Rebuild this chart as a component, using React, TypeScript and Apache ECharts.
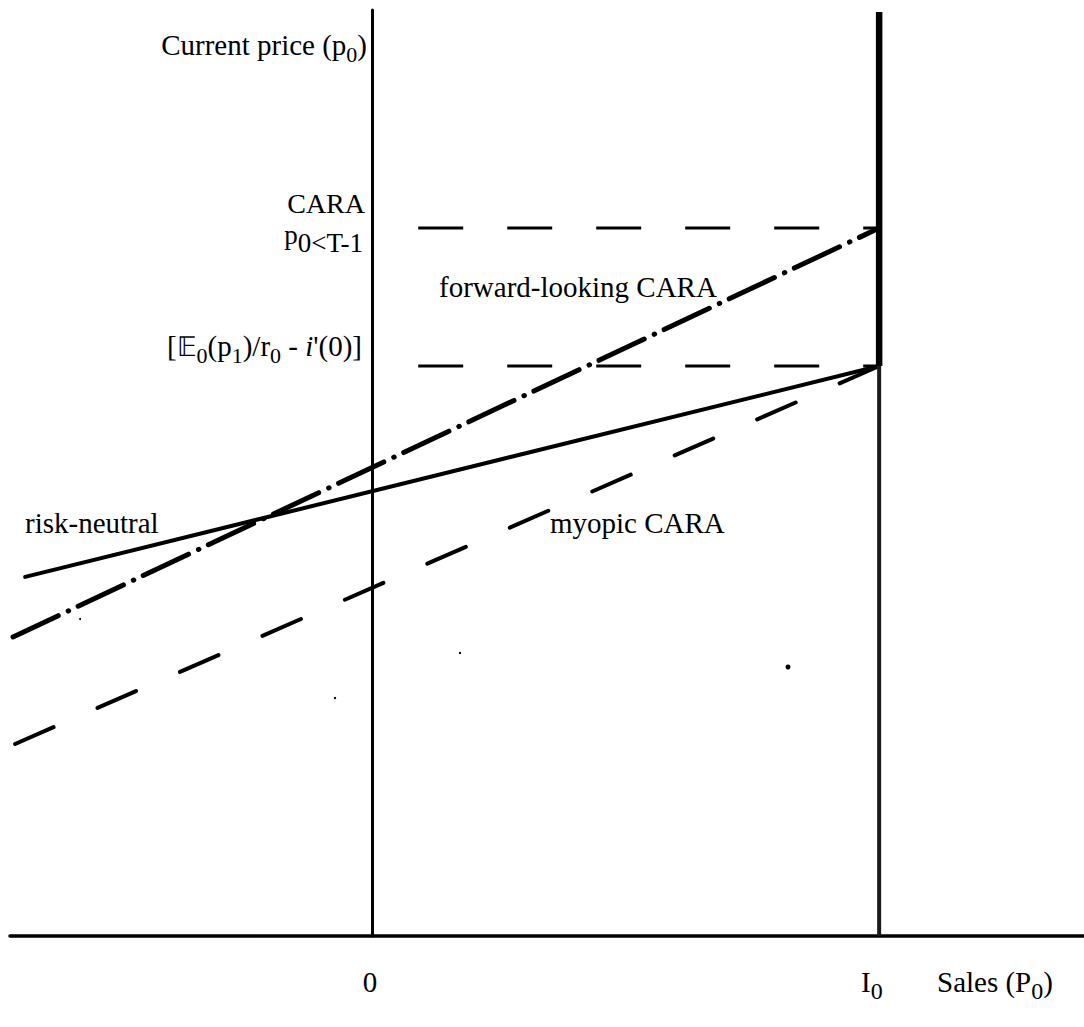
import React, { useEffect, useRef } from "react";
import * as echarts from "echarts";

// ---- data (x: sales, I0 = 100; y: current price, E0(p1)/r0 - i'(0) = 100) ----
const X_RANGE = [-71.4, 140.4];
const Y_RANGE = [0, 162.46];
const I0 = 100;
const LEVEL_E = 100; // [E0(p1)/r0 - i'(0)]
const LEVEL_CARA = 124.2; // p0<T-1 CARA
const GUIDE_START = 9.1;
const RISK_NEUTRAL = [[-68.4, 63.0], [100, 100]];
const FORWARD_CARA = [[-70.8, 52.46], [100, 124.2]];
const MYOPIC_CARA = [[-70.4, 33.68], [100, 100]];
const I0_TOP = 162.1;

const FONT = '"Liberation Serif", "Times New Roman", serif';

type Piece = { t: string; s: number; dy?: number; italic?: boolean };

let measureCtx: CanvasRenderingContext2D | null = null;
function measure(p: Piece): number {
  if (!measureCtx) measureCtx = document.createElement("canvas").getContext("2d");
  measureCtx!.font = `${p.italic ? "italic " : ""}${p.s}px ${FONT}`;
  return measureCtx!.measureText(p.t).width;
}

function label(pieces: Piece[], x: number, baseline: number, align: "left" | "right" | "center") {
  const widths = pieces.map(measure);
  const total = widths.reduce((a, b) => a + b, 0);
  let cx = align === "left" ? x : align === "right" ? x - total : x - total / 2;
  const children: any[] = [];
  pieces.forEach((p, i) => {
    const by = baseline + (p.dy || 0);
    children.push({
      type: "text",
      x: cx,
      y: by - 0.3375 * p.s,
      silent: true,
      style: {
        text: p.t,
        font: `${p.italic ? "italic " : ""}${p.s}px ${FONT}`,
        fill: "#000",
        lineHeight: Math.round(p.s * 0.8),
        align: "left",
        verticalAlign: "middle",
        textAlign: "left",
        textVerticalAlign: "middle",
      },
    });
    cx += widths[i];
  });
  return { type: "group", children };
}

export default function App() {
  const ref = useRef<HTMLDivElement>(null);
  useEffect(() => {
    const chart = echarts.init(ref.current!, null, { renderer: "svg" });
    const lineSeries = (name: string, data: number[][], lineStyle: any, z = 2) => ({
      name,
      type: "line",
      data,
      symbol: "none",
      silent: true,
      z,
      lineStyle: { color: "#000", ...lineStyle },
    });
    chart.setOption({
      animation: false,
      backgroundColor: "#fff",
      grid: { left: 10, right: 0, top: 10, bottom: 91, containLabel: false },
      xAxis: {
        type: "value",
        min: X_RANGE[0],
        max: X_RANGE[1],
        axisLine: { show: true, onZero: true, lineStyle: { color: "#000", width: 3.5 } },
        axisTick: { show: false },
        axisLabel: { show: false },
        splitLine: { show: false },
      },
      yAxis: {
        type: "value",
        min: Y_RANGE[0],
        max: Y_RANGE[1],
        axisLine: { show: true, onZero: true, lineStyle: { color: "#000", width: 3 } },
        axisTick: { show: false },
        axisLabel: { show: false },
        splitLine: { show: false },
      },
      series: [
        lineSeries("guide CARA", [[GUIDE_START, LEVEL_CARA], [I0, LEVEL_CARA]], { width: 3, type: [45, 44] }),
        lineSeries("guide E", [[GUIDE_START, LEVEL_E], [I0, LEVEL_E]], { width: 3, type: [45, 44] }),
        lineSeries("risk-neutral", RISK_NEUTRAL, { width: 4, cap: "round" }),
        lineSeries("forward-looking CARA", FORWARD_CARA, { width: 5, type: [50, 11, 0.5, 10.5], cap: "round" }),
        lineSeries("myopic CARA", MYOPIC_CARA, { width: 4, type: [42, 48], cap: "round" }),
        lineSeries("I0 lower", [[I0, 0], [I0, LEVEL_E]], { width: 4, color: "#1a1a1a" }),
        lineSeries("I0 upper", [[I0, LEVEL_E], [I0, I0_TOP]], { width: 6.5 }),
      ],
      graphic: [
        label([{ t: "Current price (p", s: 29 }, { t: "0", s: 22, dy: 7 }, { t: ")", s: 29 }], 367, 55, "right"),
        label([{ t: "CARA", s: 28 }], 365, 213, "right"),
        label([{ t: "p", s: 27 }, { t: "0<T-1", s: 27, dy: 8 }], 363, 244, "right"),
        label(
          [
            { t: "[", s: 29 },
            { t: "𝔼", s: 27 },
            { t: "0", s: 22, dy: 7 },
            { t: "(p", s: 29 },
            { t: "1", s: 22, dy: 7 },
            { t: ")/r", s: 29 },
            { t: "0", s: 22, dy: 7 },
            { t: " - ", s: 29 },
            { t: "i", s: 29, italic: true },
            { t: "'(0)]", s: 29 },
          ],
          362,
          356,
          "right"
        ),
        label([{ t: "forward-looking CARA", s: 29 }], 439, 297, "left"),
        label([{ t: "risk-neutral", s: 29 }], 25, 533, "left"),
        label([{ t: "myopic CARA", s: 29 }], 550, 533, "left"),
        label([{ t: "0", s: 29 }], 370, 992, "center"),
        label([{ t: "I", s: 29 }, { t: "0", s: 24, dy: 7 }], 861, 992, "left"),
        label([{ t: "Sales (P", s: 29 }, { t: "0", s: 24, dy: 7 }, { t: ")", s: 29 }], 937, 992, "left"),
        { type: "circle", shape: { cx: 788, cy: 667, r: 2.5 }, style: { fill: "#000" }, silent: true },
        { type: "circle", shape: { cx: 460, cy: 653, r: 1.2 }, style: { fill: "#000" }, silent: true },
        { type: "circle", shape: { cx: 335, cy: 698, r: 1.2 }, style: { fill: "#000" }, silent: true },
        { type: "circle", shape: { cx: 80, cy: 619, r: 1 }, style: { fill: "#000" }, silent: true },
      ],
    });
    return () => chart.dispose();
  }, []);
  return (
    <div
      ref={ref}
      style={{ position: "fixed", left: 0, top: 0, width: 1084, height: 1027, background: "#fff" }}
    />
  );
}
